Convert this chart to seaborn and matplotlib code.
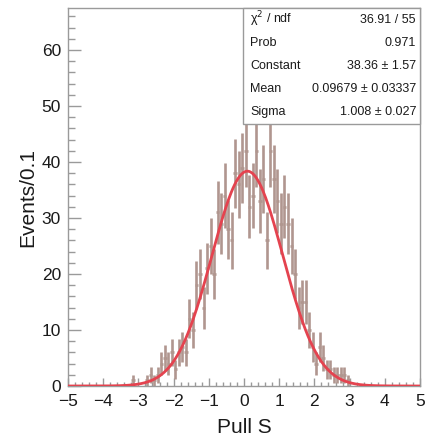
import numpy as np
import pandas as pd
import matplotlib
matplotlib.use("Agg")
import matplotlib.pyplot as plt
import seaborn as sns

# --- data (bins of width 0.1 from -5 to 5) ---
bin_centers = [round(-4.95 + 0.1 * i, 2) for i in range(100)]

# counts for the populated range -3.15 ... 3.05, all other bins are empty
populated_start = -3.15
populated_counts = [
    1, 0, 0, 0, 1, 2, 1, 2, 4, 5,       # -3.15 .. -2.25
    4, 6, 3, 6, 7, 6, 12, 10, 18, 20,   # -2.15 .. -1.25
    14, 21, 25, 20, 31, 29, 34, 28, 26, 38,  # -1.15 .. -0.25
    36, 39, 42, 32, 34, 42, 33, 37, 26, 42,  # -0.15 .. 0.75
    37, 33, 29, 32, 29, 25, 20, 14, 15, 15,  # 0.85 .. 1.75
    10, 7, 4, 7, 5, 3, 3, 2, 2, 2,      # 1.85 .. 2.75
    2, 1, 0,                            # 2.85 .. 3.05
]

# fit result shown in the stats box
fit_constant = 38.36
fit_mean = 0.09679
fit_sigma = 1.008

stats_labels = ["\u03c7$^{2}$ / ndf", "Prob", "Constant", "Mean", "Sigma"]
stats_values = ["36.91 / 55", "0.971", "38.36 \u00b1 1.57",
                "0.09679 \u00b1 0.03337", "1.008 \u00b1 0.027"]

counts = np.zeros(100)
i0 = int(round((populated_start + 4.95) / 0.1))
counts[i0:i0 + len(populated_counts)] = populated_counts

df = pd.DataFrame({"x": bin_centers, "n": counts})
df = df[df["n"] > 0]

xfit = np.linspace(-5, 5, 400)
yfit = fit_constant * np.exp(-0.5 * ((xfit - fit_mean) / fit_sigma) ** 2)
fit_df = pd.DataFrame({"x": xfit, "y": yfit})

# --- style ---
sns.set_style("white")
plt.rcParams["font.family"] = ["Liberation Sans", "DejaVu Sans"]

fig = plt.figure(figsize=(4.29, 4.37), dpi=100)
ax = fig.add_axes([68 / 429, 1 - 386 / 437, (420 - 68) / 429, (386 - 8) / 437])

ax.errorbar(df["x"], df["n"], yerr=np.sqrt(df["n"]), xerr=0.05,
            fmt="none", ecolor="#b0968f", elinewidth=1.9, capsize=0, zorder=2)
sns.lineplot(data=fit_df, x="x", y="y", ax=ax, color="#e4434f",
             linewidth=2.0, zorder=3)

ax.set_xlim(-5, 5)
ax.set_ylim(0, 67.5)
ax.set_xticks(np.arange(-5, 6, 1))
ax.set_xticks(np.arange(-5, 5.01, 0.2), minor=True)
ax.set_yticks(np.arange(0, 61, 10))
ax.set_yticks(np.arange(0, 67, 2), minor=True)

for s in ax.spines.values():
    s.set_color("#9a9a9a")
    s.set_linewidth(1.0)

ax.tick_params(axis="both", which="both", direction="in", colors="#9a9a9a",
               labelcolor="#1a1a1a", labelsize=12.5, top=False, right=False,
               bottom=True, left=True, width=1.0)
ax.tick_params(axis="x", which="major", length=6, pad=6)
ax.tick_params(axis="x", which="minor", length=3)
ax.tick_params(axis="y", which="major", length=9, pad=5)
ax.tick_params(axis="y", which="minor", length=5)

ax.set_xlabel("Pull S", fontsize=15, color="#1a1a1a")
ax.set_ylabel("Events/0.1", fontsize=15, color="#1a1a1a")
ax.xaxis.set_label_coords(0.5, -0.084)
ax.yaxis.set_label_coords(-0.088, 0.5)

# --- stats box ---
box_left, box_right = 243, 420
box_top, box_bottom = 8, 124


def fx(px):
    return px / 429


def fy(py):
    return 1 - py / 437


fig.patches.append(plt.Rectangle((fx(box_left), fy(box_bottom)),
                                 fx(box_right) - fx(box_left),
                                 fy(box_top) - fy(box_bottom),
                                 transform=fig.transFigure, facecolor="white",
                                 edgecolor="#9a9a9a", linewidth=1.0, zorder=5))
row_h = (box_bottom - box_top) / len(stats_labels)
for k, (lab, val) in enumerate(zip(stats_labels, stats_values)):
    yc = box_top + row_h * (k + 0.5)
    fig.text(fx(box_left + 7), fy(yc), lab, fontsize=9, ha="left",
             va="center", color="#1a1a1a", zorder=6)
    fig.text(fx(box_right - 4), fy(yc), val, fontsize=9, ha="right",
             va="center", color="#1a1a1a", zorder=6)

fig.savefig("out.png", dpi=100)
